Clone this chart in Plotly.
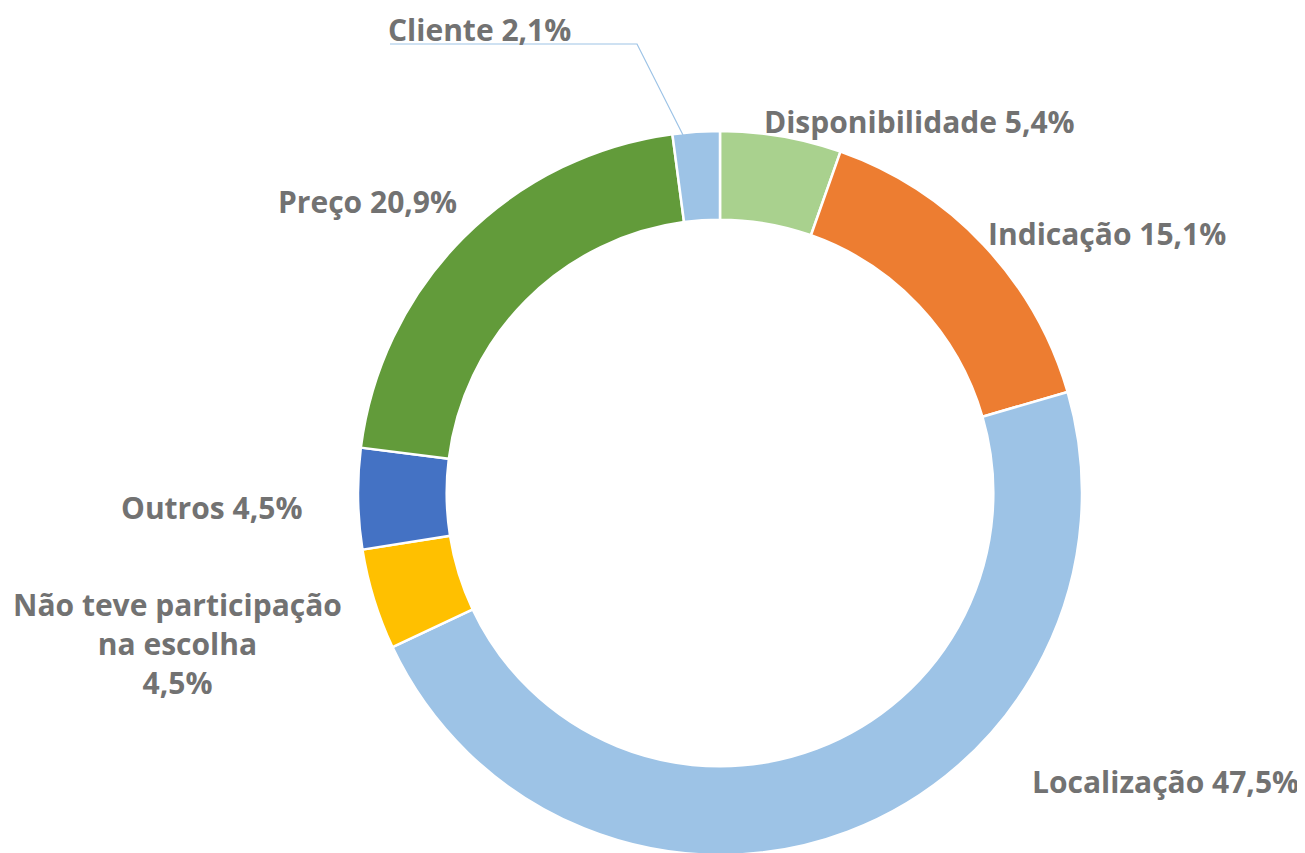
import plotly.graph_objects as go

categories = ["Disponibilidade", "Indicação", "Localização", "Não teve participação<br>na escolha", "Outros", "Preço", "Cliente"]
values = [5.4, 15.1, 47.5, 4.5, 4.5, 20.9, 2.1]
value_text = ["5,4%", "15,1%", "47,5%", "4,5%", "4,5%", "20,9%", "2,1%"]
colors = ["#A9D18E", "#ED7D31", "#9DC3E6", "#FFC000", "#4472C4", "#629B3A", "#9DC3E6"]
# label positions in pixels (centre of text) and separators
label_px = [(919, 122), (1107, 234), (1165, 781), (177, 643), (211, 507), (367, 202), (480, 22)]
label_sep = [" ", " ", " ", "<br>", " ", " ", " "]

W, H = 1305, 853
OFF = 8  # page body margin
cx, cy, R = 720 - OFF, 493 - OFF, 362

fig = go.Figure(go.Pie(
    labels=categories, values=values, sort=False, direction="clockwise", rotation=0,
    hole=0.755, marker=dict(colors=colors, line=dict(color="white", width=2.5)),
    textinfo="none", hoverinfo="label+percent", showlegend=False,
    domain=dict(x=[(cx - R) / W, (cx + R) / W], y=[(H - cy - R) / H, (H - cy + R) / H]),
))

font = dict(family="Open Sans", size=30, color="#727272")
for name, vt, (px, py), sep in zip(categories, value_text, label_px, label_sep):
    y = 1 - (py - OFF) / H
    yanchor = "middle"
    if y > 0.975:  # keep the top label inside the page
        y, yanchor = 1.0, "top"
    fig.add_annotation(x=(px - OFF) / W, y=y, xref="paper", yref="paper",
                       text="<b>" + name + sep + vt + "</b>", showarrow=False, borderpad=0,
                       font=font, xanchor="center", yanchor=yanchor, align="center")

# leader line for Cliente
def p(x, y):
    return (x - OFF) / W, 1 - (y - OFF) / H
pts = [p(390, 44), p(637, 44), p(683, 135)]
path = "M {} {} L {} {} L {} {}".format(pts[0][0], pts[0][1], pts[1][0], pts[1][1], pts[2][0], pts[2][1])
fig.add_shape(type="path", path=path, xref="paper", yref="paper", line=dict(color="#9DC3E6", width=1.2))

fig.update_layout(width=W, height=H, margin=dict(l=0, r=0, t=0, b=0),
                  paper_bgcolor="white", plot_bgcolor="white")
fig.write_html("out.html")
